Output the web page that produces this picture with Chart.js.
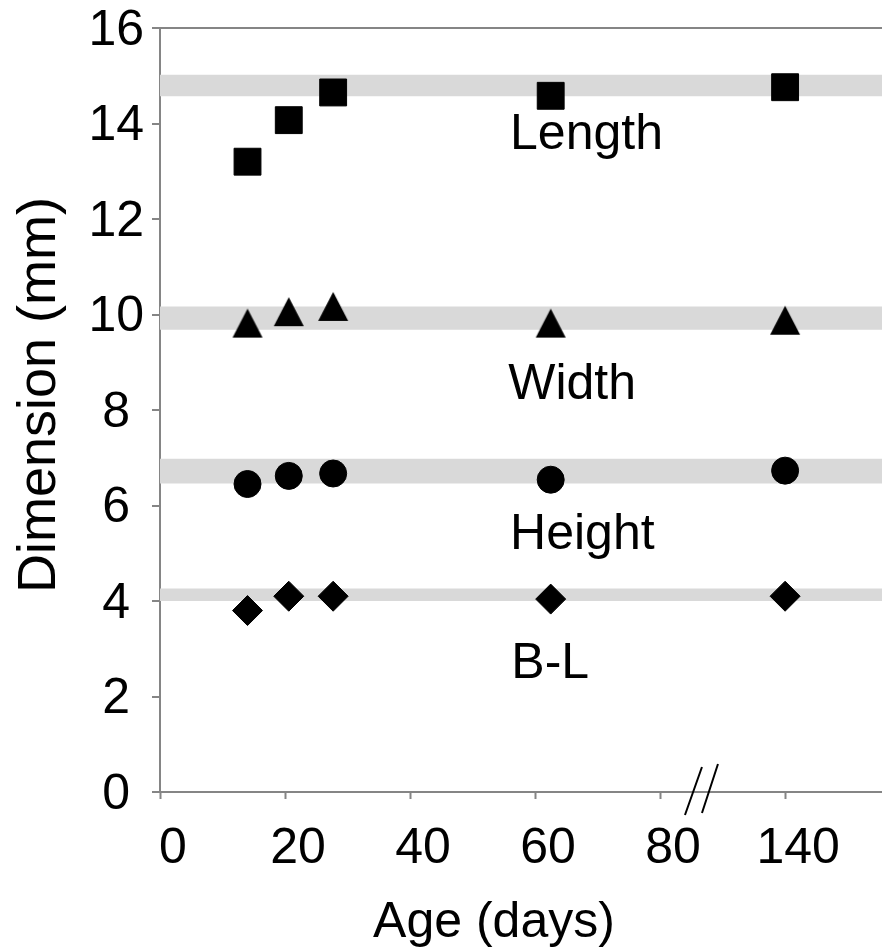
<!DOCTYPE html>
<html lang="en">
<head>
  <meta charset="UTF-8">
  <title>Dimension vs age</title>
  <script src="https://cdn.jsdelivr.net/npm/chart.js"></script>
  <style>
    html, body {
      margin: 0;
      padding: 0;
      background: #ffffff;
      overflow: hidden;
    }
    canvas {
      display: block;
    }
  </style>
</head>
<body>
  <canvas id="dimChart" width="882" height="952"></canvas>
  <script>
    // ages in days; 140 sits past the axis break
    const ages = [14, 20.6, 27.7, 62.5, 140];
    const lengthMm = [13.2, 14.07, 14.65, 14.58, 14.76];
    const widthMm = [9.82, 10.06, 10.17, 9.82, 9.88];
    const heightMm = [6.45, 6.62, 6.67, 6.54, 6.73];
    const blMm = [3.80, 4.10, 4.10, 4.04, 4.10];

    // grey bands: [low, high]
    const lengthBand = [14.57, 15.02];
    const widthBand = [9.68, 10.17];
    const heightBand = [6.46, 6.98];
    const blBand = [4.00, 4.26];

    const xTickPos = [0, 20, 40, 60, 80, 100];
    const xTickLabels = ['0', '20', '40', '60', '80', '140'];
    const xMax = 115.5;
    const breakAt = 86.7;

    const seriesNames = ['Length', 'Width', 'Height', 'B-L'];
    const nameX = [56, 55.7, 56, 56.2];
    const nameY = [13.47, 8.22, 5.09, 2.38];

    const FONT = "'Liberation Sans', Arial, sans-serif";

    // after the break, 140 days is drawn at axis position 100
    function axisPos(age) {
      return age >= 140 ? 100 + (age - 140) : age;
    }

    function points(vals) {
      return ages.map((a, i) => ({ x: axisPos(a), y: vals[i] }));
    }

    function band(b) {
      return {
        type: 'line',
        data: [{ x: 0, y: b[0] }, { x: xMax, y: b[0] }],
        borderWidth: 0,
        borderColor: 'rgba(0,0,0,0)',
        backgroundColor: '#d9d9d9',
        pointRadius: 0,
        fill: { value: b[1] },
        order: 2
      };
    }

    function triangleMarker(w, h) {
      const c = document.createElement('canvas');
      c.width = w + 2;
      c.height = h + 2;
      const g = c.getContext('2d');
      g.fillStyle = '#000';
      g.beginPath();
      g.moveTo(c.width / 2, 1);
      g.lineTo(w + 1, h + 1);
      g.lineTo(1, h + 1);
      g.closePath();
      g.fill();
      return c;
    }

    function marker(vals, style, r) {
      return {
        type: 'scatter',
        data: points(vals),
        pointStyle: style,
        pointRadius: r,
        pointHoverRadius: r,
        pointBackgroundColor: '#000',
        pointBorderColor: '#000',
        pointBorderWidth: 1,
        showLine: false,
        order: 1
      };
    }

    const decorations = {
      id: 'decorations',
      afterDraw(chart) {
        const ctx = chart.ctx;
        const x = chart.scales.x;
        const y = chart.scales.y;
        ctx.save();
        ctx.fillStyle = '#000';
        ctx.font = '50px ' + FONT;
        ctx.textAlign = 'left';
        ctx.textBaseline = 'alphabetic';
        seriesNames.forEach((n, i) => {
          ctx.fillText(n, x.getPixelForValue(nameX[i]), y.getPixelForValue(nameY[i]));
        });

        // axis titles
        ctx.textAlign = 'center';
        ctx.fillText('Age (days)', 494, 937);
        ctx.save();
        ctx.translate(55, 593);
        ctx.rotate(-Math.PI / 2);
        ctx.textAlign = 'left';
        ctx.font = '54px ' + FONT;
        ctx.fillText('Dimension (mm)', 0, 0);
        ctx.restore();

        // axis break
        const bx = x.getPixelForValue(breakAt);
        const by = y.getPixelForValue(0);
        ctx.strokeStyle = '#000';
        ctx.lineWidth = 2;
        ctx.beginPath();
        ctx.moveTo(bx - 17, by + 23);
        ctx.lineTo(bx, by - 25);
        ctx.moveTo(bx, by + 21);
        ctx.lineTo(bx + 16, by - 28);
        ctx.stroke();
        ctx.restore();
      }
    };

    new Chart(document.getElementById('dimChart'), {
      type: 'scatter',
      data: {
        datasets: [
          marker(lengthMm, 'rect', 19),
          marker(widthMm, triangleMarker(30, 29), 15),
          marker(heightMm, 'circle', 13.5),
          marker(blMm, 'rectRot', 15),
          band(lengthBand),
          band(widthBand),
          band(heightBand),
          band(blBand)
        ]
      },
      options: {
        responsive: false,
        animation: false,
        layout: {
          autoPadding: false,
          padding: { top: 28, right: 0, bottom: 0, left: 0 }
        },
        plugins: {
          legend: { display: false },
          tooltip: { enabled: false }
        },
        scales: {
          x: {
            type: 'linear',
            min: 0,
            max: xMax,
            afterBuildTicks(axis) {
              axis.ticks = xTickPos.map(v => ({ value: v }));
            },
            afterFit(axis) {
              axis.height = 160;
            },
            border: { display: true, color: '#858585', width: 2 },
            grid: {
              drawOnChartArea: false,
              drawTicks: true,
              tickLength: 7,
              tickColor: '#858585',
              tickWidth: 2
            },
            ticks: {
              color: '#000',
              font: { family: FONT, size: 50, lineHeight: 1.2 },
              padding: 20,
              labelOffset: 13,
              maxRotation: 0,
              autoSkip: false,
              callback(value) {
                const i = xTickPos.indexOf(value);
                return i >= 0 ? xTickLabels[i] : '';
              }
            }
          },
          y: {
            min: 0,
            max: 16,
            afterFit(axis) {
              axis.width = 160;
            },
            border: { display: true, color: '#858585', width: 2 },
            grid: {
              drawOnChartArea: true,
              color: ctx => (ctx.tick && ctx.tick.value === 16 ? '#858585' : 'rgba(0,0,0,0)'),
              lineWidth: 2,
              drawTicks: true,
              tickLength: 8,
              tickColor: '#858585',
              tickWidth: 2
            },
            ticks: {
              stepSize: 2,
              color: '#000',
              crossAlign: 'center',
              padding: 8,
              labelOffset: 3,
              font: { family: FONT, size: 50, lineHeight: 0.8 }
            }
          }
        }
      },
      plugins: [decorations]
    });
  </script>
</body>
</html>
